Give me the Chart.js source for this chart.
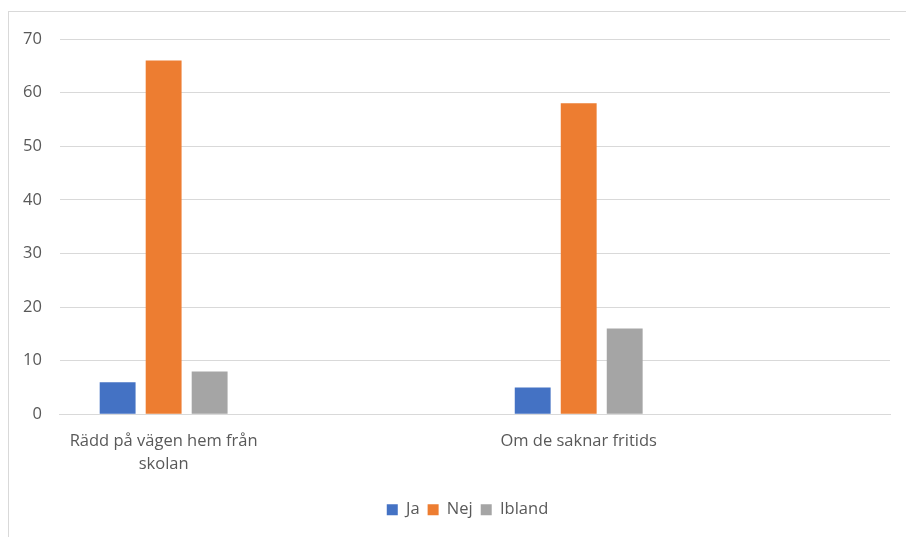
<!DOCTYPE html>
<html>
<head>
<meta charset="utf-8">
<script src="https://cdn.jsdelivr.net/npm/chart.js@4"></script>
<style>
  html, body { margin: 0; padding: 0; background: #fff; overflow: hidden; }
  #frame { position: absolute; left: 8px; top: 11px; width: 1000px; height: 1000px; border: 1px solid #d9d9d9; }
  #growth { position: absolute; left: 0; top: 0; }
</style>
</head>
<body>
<div id="frame"></div>
<canvas id="growth" width="906" height="537"></canvas>
<script>
// Categories (empty slots keep Excel's spacing)
const categories = [['Rädd på vägen hem från', 'skolan'], '', 'Om de saknar fritids', ''];
const seriesNames = ['Ja', 'Nej', 'Ibland'];
const ja = [6, null, 5, null];
const nej = [66, null, 58, null];
const ibland = [8, null, 16, null];
const yTicks = [0, 10, 20, 30, 40, 50, 60, 70];

const colors = ['#4472C4', '#ED7D31', '#A5A5A5'];
const textColor = '#595959';
const font = { family: "'Open Sans', sans-serif", size: 16.5, lineHeight: 1.4 };

// nudge the legend right and down, like Excel places it
const legendShift = {
    id: 'legendShift',
    afterLayout(chart) {
        const lg = chart.legend;
        lg.left += 20;
        lg.right += 20;
        lg.top += 11;
        lg.bottom += 11;
    }
};

const ctx = document.getElementById('growth').getContext('2d');
const chart = new Chart(ctx, {
    type: 'bar',
    data: {
        labels: categories,
        datasets: [ja, nej, ibland].map((d, i) => ({
            label: seriesNames[i],
            data: d,
            backgroundColor: colors[i],
            categoryPercentage: 0.665,
            barPercentage: 0.78
        }))
    },
    options: {
        responsive: false,
        animation: false,
        layout: { padding: { left: 5, right: 16, top: 39, bottom: 20 } },
        scales: {
            x: {
                grid: { display: false },
                border: { color: '#d9d9d9' },
                ticks: { color: textColor, font: font, padding: 7, maxRotation: 0, autoSkip: false }
            },
            y: {
                min: 0,
                max: 70,
                afterBuildTicks: (axis) => { axis.ticks = yTicks.map(v => ({ value: v })); },
                grid: { color: '#d9d9d9', lineWidth: 1, drawTicks: false },
                border: { display: false },
                ticks: { color: textColor, font: font, padding: 18 }
            }
        },
        plugins: {
            legend: {
                position: 'bottom',
                labels: { color: textColor, font: font, boxWidth: 11, boxHeight: 11, padding: 8 }
            },
            tooltip: { enabled: false }
        }
    },
    plugins: [legendShift]
});
</script>
</body>
</html>
